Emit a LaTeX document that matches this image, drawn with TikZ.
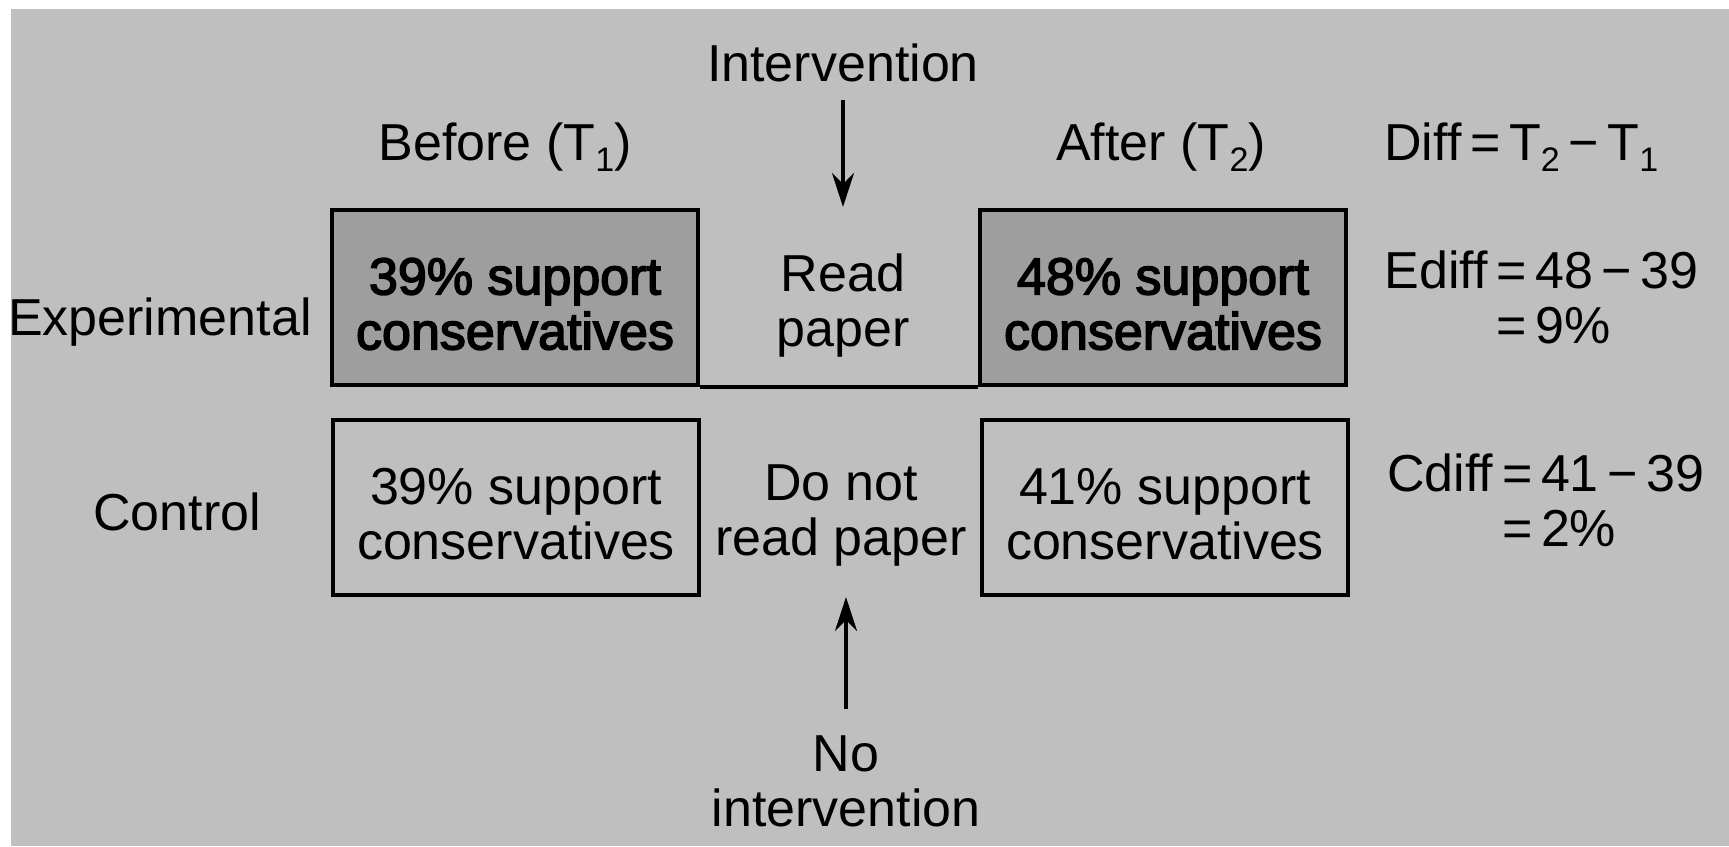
\documentclass[tikz,border=0pt]{standalone}
\usepackage{fontspec}
\setmainfont{Liberation Sans}
\newfontfamily\heavyface[FakeBold=3]{Liberation Sans}
\usetikzlibrary{arrows.meta}
\definecolor{bgc}{RGB}{191,191,191}
\definecolor{darkc}{RGB}{158,158,158}
\newcommand{\sbs}[1]{\raisebox{-0.22em}{\fontsize{17}{17}\selectfont #1}}
\begin{document}
\begin{tikzpicture}[x=0.5pt,y=-0.5pt,
  every node/.style={font=\fontsize{26}{27.5}\selectfont, inner sep=0pt, text=black},
  box/.style={draw, line width=2pt, minimum width=183pt, minimum height=87.5pt, align=center},
  expbox/.style={box, fill=darkc, font=\heavyface\fontsize{26}{27.5}\selectfont},
  ctlbox/.style={box, fill=bgc},
  arr/.style={line width=1.8pt, -{Stealth[length=17pt,width=11pt]}}]
\fill[white] (0,0) rectangle (1729,846);
\fill[bgc] (11,9) rectangle (1729,846);
\useasboundingbox (0,0) rectangle (1729,846);

% header labels
\node (int) at (843,63) {Intervention};
\node[anchor=base] (before) at (505,160) {Before (T\sbs{1})};
\node[anchor=base] (after) at (1161,160) {After (T\sbs{2})};
\node[anchor=base west] (diff) at (1384,160) {Diff\,=\,T\sbs{2}\,−\,T\sbs{1}};

% row labels
\node[anchor=base east] (exp) at (312,335) {Experimental};
\node[anchor=base] (ctl) at (177,530) {Control};

% boxes
\node[box, fill=darkc] (eb) at (515,297) {};
\node[box, fill=darkc] (ea) at (1163,297) {};
\node[ctlbox] (cb) at (516,507) {};
\node[ctlbox] (ca) at (1165,507) {};
\node[align=center, font=\heavyface\fontsize{26}{27.5}\selectfont] (ebt) at (515,304) {39\% support\\conservatives};
\node[align=center, font=\heavyface\fontsize{26}{27.5}\selectfont] (eat) at (1163,304) {48\% support\\conservatives};
\node[align=center] (cbt) at (516,514) {39\% support\\conservatives};
\node[align=center] (cat) at (1165,514) {41\% support\\conservatives};

% middle texts
\node[align=center] (rp) at (843,306) {Read\\paper};
\node[align=center] (dn) at (841,516) {Do not\\read paper};
\node[align=center] (noint) at (846,781) {No\\intervention};

% differences
\node[anchor=base west, align=left] (ed) at (1384,343) {Ediff\,=\,48\,−\,39\\\hphantom{Ediff\,}=\,9\%};
\node[anchor=base west, align=left] (cd) at (1387,546) {Cdiff\,=\,41\,−\,39\\\hphantom{Cdiff\,}=\,2\%};

% connectors
\coordinate (ta) at (843,207);
\coordinate (tb) at (846,597);
\draw[line width=2pt] (eb.south east) -- (ea.south west);
\draw[arr, shorten <=9pt] (int.south) -- (ta);
\draw[arr, shorten <=13pt] (noint.north) -- (tb);
\end{tikzpicture}
\end{document}
